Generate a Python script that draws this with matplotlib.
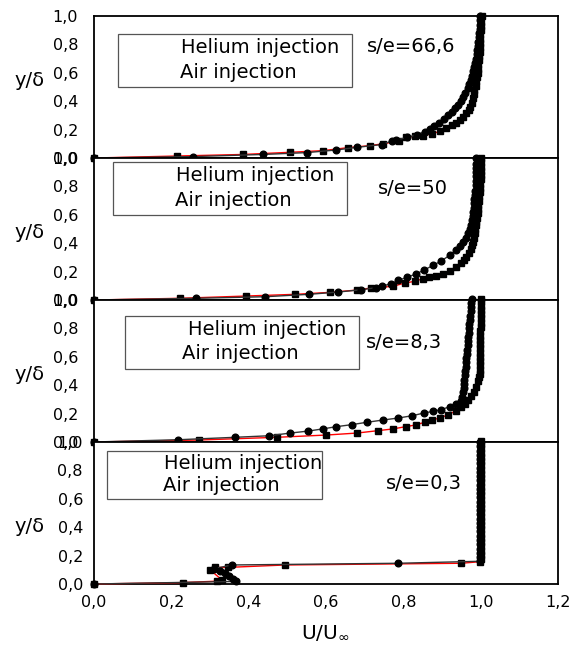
import matplotlib
matplotlib.use("Agg")
import matplotlib.pyplot as plt
from matplotlib.patches import Rectangle
from matplotlib.ticker import FuncFormatter

# Velocity profiles y/delta vs U/Uinf, one panel per s/e station.
# Circles: helium injection, squares: air injection.

# s/e = 66,6
y_he_666 = [0, 0.010, 0.025, 0.038, 0.056, 0.075, 0.095, 0.120, 0.127, 0.145,
            0.165, 0.185, 0.205, 0.225, 0.250, 0.275, 0.300, 0.325, 0.350, 0.375,
            0.400, 0.430, 0.460, 0.490, 0.520, 0.550, 0.580, 0.610, 0.640, 0.670,
            0.700, 0.730, 0.760, 0.790, 0.820, 0.850, 0.880, 0.910, 0.940, 0.970,
            1.000]
u_he_666 = [0, 0.256, 0.437, 0.550, 0.625, 0.680, 0.745, 0.770, 0.782, 0.810,
            0.835, 0.855, 0.868, 0.880, 0.893, 0.905, 0.915, 0.925, 0.934, 0.942,
            0.948, 0.954, 0.960, 0.966, 0.970, 0.974, 0.978, 0.981, 0.984, 0.986,
            0.988, 0.990, 0.991, 0.993, 0.994, 0.995, 0.996, 0.997, 0.998, 0.998,
            0.999]
y_air_666 = [0, 0.014, 0.025, 0.040, 0.052, 0.073, 0.087, 0.100, 0.120, 0.146,
             0.152, 0.158, 0.170, 0.190, 0.209, 0.230, 0.250, 0.268, 0.290, 0.315,
             0.340, 0.361, 0.390, 0.420, 0.450, 0.479, 0.510, 0.540, 0.570, 0.600,
             0.630, 0.660, 0.690, 0.720, 0.750, 0.780, 0.810, 0.840, 0.870, 0.900,
             0.930, 0.960, 1.000]
u_air_666 = [0, 0.215, 0.385, 0.506, 0.593, 0.657, 0.713, 0.748, 0.790, 0.808,
             0.829, 0.851, 0.875, 0.895, 0.911, 0.925, 0.937, 0.946, 0.955, 0.963,
             0.969, 0.972, 0.977, 0.981, 0.983, 0.984, 0.987, 0.989, 0.991, 0.992,
             0.993, 0.994, 0.995, 0.996, 0.997, 0.997, 0.997, 0.998, 0.999, 1.000,
             1.001, 1.002, 1.003]

# s/e = 50
y_he_50 = [0, 0.012, 0.023, 0.040, 0.056, 0.072, 0.087, 0.099, 0.115, 0.139,
           0.160, 0.185, 0.210, 0.244, 0.275, 0.315, 0.350, 0.380, 0.408, 0.440,
           0.470, 0.502, 0.530, 0.560, 0.590, 0.620, 0.650, 0.680, 0.710, 0.740,
           0.770, 0.808, 0.840, 0.870, 0.900, 0.930, 0.960, 1.000]
u_he_50 = [0, 0.264, 0.442, 0.556, 0.631, 0.690, 0.730, 0.746, 0.769, 0.787,
           0.810, 0.834, 0.853, 0.877, 0.898, 0.920, 0.935, 0.946, 0.954, 0.961,
           0.967, 0.972, 0.975, 0.978, 0.979, 0.980, 0.982, 0.983, 0.984, 0.985,
           0.986, 0.987, 0.988, 0.988, 0.988, 0.989, 0.989, 0.989]
y_air_50 = [0, 0.012, 0.028, 0.040, 0.054, 0.070, 0.085, 0.096, 0.120, 0.131,
            0.150, 0.160, 0.172, 0.185, 0.205, 0.232, 0.260, 0.280, 0.303, 0.330,
            0.360, 0.385, 0.408, 0.440, 0.470, 0.500, 0.525, 0.549, 0.580, 0.610,
            0.640, 0.670, 0.700, 0.730, 0.760, 0.790, 0.820, 0.850, 0.880, 0.910,
            0.940, 0.970, 1.000]
u_air_50 = [0, 0.222, 0.394, 0.521, 0.611, 0.680, 0.717, 0.773, 0.804, 0.829,
            0.851, 0.866, 0.885, 0.903, 0.920, 0.937, 0.950, 0.957, 0.963, 0.969,
            0.974, 0.977, 0.980, 0.983, 0.985, 0.986, 0.988, 0.989, 0.991, 0.992,
            0.993, 0.994, 0.995, 0.996, 0.997, 0.998, 0.999, 1.000, 1.001, 1.001,
            1.002, 1.002, 1.002]

# s/e = 8,3
y_he_83 = [0, 0.016, 0.033, 0.044, 0.063, 0.077, 0.092, 0.108, 0.122, 0.139,
           0.155, 0.169, 0.185, 0.204, 0.216, 0.228, 0.249, 0.268, 0.290, 0.320,
           0.350, 0.380, 0.410, 0.440, 0.470, 0.500, 0.530, 0.560, 0.590, 0.620,
           0.650, 0.680, 0.710, 0.740, 0.770, 0.800, 0.830, 0.860, 0.890, 0.920,
           0.950, 0.980, 1.010]
u_he_83 = [0, 0.218, 0.364, 0.453, 0.508, 0.554, 0.591, 0.627, 0.666, 0.706,
           0.748, 0.787, 0.823, 0.853, 0.877, 0.898, 0.920, 0.937, 0.950, 0.953,
           0.955, 0.956, 0.957, 0.958, 0.959, 0.960, 0.961, 0.962, 0.963, 0.964,
           0.965, 0.966, 0.967, 0.968, 0.969, 0.970, 0.971, 0.972, 0.973, 0.974,
           0.975, 0.976, 0.977]
y_air_83 = [0, 0.014, 0.033, 0.049, 0.063, 0.080, 0.092, 0.108, 0.120, 0.139,
            0.155, 0.169, 0.192, 0.221, 0.245, 0.268, 0.295, 0.326, 0.355, 0.385,
            0.430, 0.455, 0.479, 0.510, 0.540, 0.570, 0.600, 0.630, 0.660, 0.690,
            0.720, 0.750, 0.780, 0.810, 0.840, 0.870, 0.900, 0.930, 0.960, 0.990,
            1.010]
u_air_83 = [0, 0.271, 0.472, 0.601, 0.680, 0.735, 0.773, 0.806, 0.832, 0.855,
            0.875, 0.894, 0.916, 0.937, 0.950, 0.959, 0.968, 0.976, 0.983, 0.989,
            0.994, 0.996, 0.997, 0.997, 0.998, 0.998, 0.998, 0.998, 0.999, 0.999,
            0.999, 0.999, 0.999, 1.000, 1.000, 1.000, 1.000, 1.000, 1.000, 1.000,
            1.000]

# s/e = 0,3
y_he_03 = [0, 0.018, 0.035, 0.055, 0.075, 0.092, 0.108, 0.134, 0.146, 0.160,
           0.190, 0.220, 0.250, 0.280, 0.310, 0.340, 0.370, 0.400, 0.430, 0.460,
           0.490, 0.520, 0.550, 0.580, 0.610, 0.640, 0.670, 0.700, 0.730, 0.760,
           0.790, 0.820, 0.850, 0.880, 0.910, 0.940, 0.970, 1.000]
u_he_03 = [0, 0.368, 0.360, 0.350, 0.338, 0.325, 0.310, 0.357, 0.786, 0.998,
           0.998, 0.998, 0.998, 0.998, 0.998, 0.998, 0.998, 0.998, 0.998, 0.998,
           0.998, 0.998, 0.998, 0.998, 0.998, 0.998, 0.998, 0.998, 0.998, 0.998,
           0.998, 0.998, 0.998, 0.998, 0.998, 0.998, 0.998, 0.998]
y_air_03 = [0, 0.010, 0.020, 0.026, 0.100, 0.117, 0.117, 0.134, 0.146, 0.157,
            0.175, 0.205, 0.235, 0.265, 0.295, 0.325, 0.355, 0.385, 0.415, 0.445,
            0.475, 0.505, 0.535, 0.565, 0.595, 0.625, 0.655, 0.685, 0.715, 0.745,
            0.775, 0.805, 0.835, 0.865, 0.895, 0.925, 0.955, 0.985, 1.010]
u_air_03 = [0, 0.229, 0.318, 0.332, 0.300, 0.314, 0.347, 0.495, 0.950, 0.998,
            1.000, 1.000, 1.000, 1.000, 1.000, 1.000, 1.000, 1.000, 1.000, 1.000,
            1.000, 1.000, 1.000, 1.000, 1.000, 1.000, 1.000, 1.000, 1.000, 1.000,
            1.000, 1.000, 1.000, 1.000, 1.000, 1.000, 1.000, 1.000, 1.000]

stations = ["s/e=66,6", "s/e=50", "s/e=8,3", "s/e=0,3"]
x_ticks = [0.0, 0.2, 0.4, 0.6, 0.8, 1.0, 1.2]
y_ticks = [0.0, 0.2, 0.4, 0.6, 0.8, 1.0]

profiles = [
    (u_he_666, y_he_666, u_air_666, y_air_666),
    (u_he_50, y_he_50, u_air_50, y_air_50),
    (u_he_83, y_he_83, u_air_83, y_air_83),
    (u_he_03, y_he_03, u_air_03, y_air_03),
]

# legend box (x0, y0, x1, y1), helium text, air text, station text -- axes fractions
layout = [
    ((0.052, 0.500, 0.556, 0.873), (0.188, 0.775), (0.185, 0.599), (0.588, 0.782)),
    ((0.041, 0.599, 0.545, 0.972), (0.177, 0.880), (0.175, 0.704), (0.612, 0.782)),
    ((0.067, 0.514, 0.571, 0.887), (0.203, 0.789), (0.190, 0.620), (0.586, 0.704)),
    ((0.028, 0.599, 0.491, 0.937), (0.151, 0.852), (0.149, 0.697), (0.629, 0.711)),
]
ylabel_rows = [80, 233, 375, 527]


def comma(v, _pos):
    return f"{v:.1f}".replace(".", ",")


W, H = 572, 648
fig = plt.figure(figsize=(W / 100, H / 100), dpi=100)
fig.patch.set_facecolor("white")

for i, ((u_he, y_he, u_air, y_air), label, (box, he_pos, air_pos, st_pos)) in enumerate(
        zip(profiles, stations, layout)):
    base = 16 + 142 * (i + 1)
    ax = fig.add_axes([94 / W, (H - base) / H, 464 / W, 142 / H])
    ax.set_xlim(0, 1.2)
    ax.set_ylim(0, 1.0)

    ax.plot(u_air, y_air, color="red", lw=1.0, marker="s", ms=4.5,
            mfc="black", mec="black", clip_on=False, zorder=3)
    ax.plot(u_he, y_he, color="#333333", lw=1.0, marker="o", ms=4.8,
            mfc="black", mec="black", clip_on=False, zorder=4)

    x0, y0, x1, y1 = box
    ax.add_patch(Rectangle((x0, y0), x1 - x0, y1 - y0, transform=ax.transAxes,
                           fill=False, ec="#555555", lw=0.9, zorder=5))
    ax.text(*he_pos, "Helium injection", transform=ax.transAxes,
            fontsize=14, va="center", ha="left")
    ax.text(*air_pos, "Air injection", transform=ax.transAxes,
            fontsize=14, va="center", ha="left")
    ax.text(*st_pos, label, transform=ax.transAxes,
            fontsize=14, va="center", ha="left")

    ax.set_yticks(y_ticks)
    ax.yaxis.set_major_formatter(FuncFormatter(comma))
    ax.tick_params(axis="y", length=0, labelsize=11.5,
                   pad=8 if i == 3 else 11.5)
    ax.set_xticks(x_ticks)
    if i == 3:
        ax.xaxis.set_major_formatter(FuncFormatter(comma))
        ax.tick_params(axis="x", length=0, labelsize=11.5, pad=8)
    else:
        ax.tick_params(axis="x", length=0, labelbottom=False)

    for sp in ax.spines.values():
        sp.set_linewidth(1.3)
        sp.set_color("black")

    fig.text(14 / W, 1 - ylabel_rows[i] / H, "y/δ", fontsize=14,
             ha="left", va="center")

fig.text(301 / W, 1 - 632 / H, r"U/U$_{\infty}$", fontsize=14.5,
         ha="left", va="center")

fig.savefig("out.png", dpi=100, facecolor="white")
